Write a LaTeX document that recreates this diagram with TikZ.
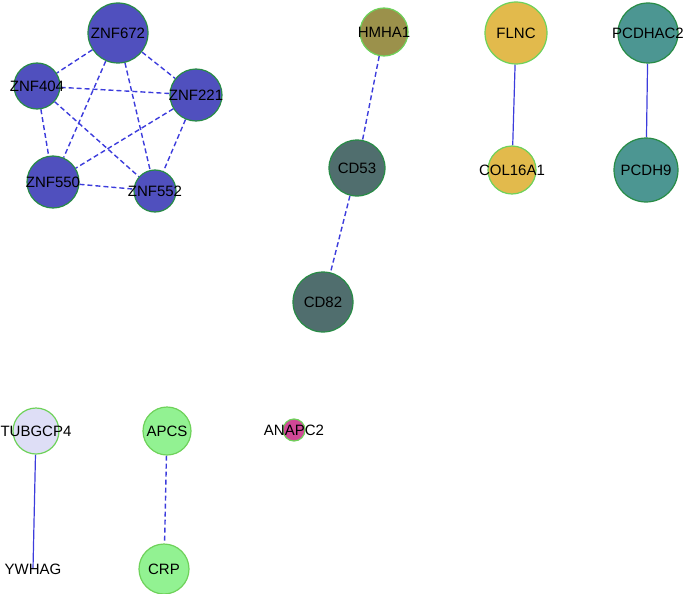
\documentclass[tikz,border=0pt]{standalone}
\usepackage{fontspec}
\setsansfont{Liberation Sans}
\usetikzlibrary{backgrounds}

\definecolor{znfblue}{RGB}{80,80,190}
\definecolor{hmhaolive}{RGB}{155,145,75}
\definecolor{cdslate}{RGB}{80,110,110}
\definecolor{flncgold}{RGB}{226,186,76}
\definecolor{pcdhteal}{RGB}{76,150,146}
\definecolor{tubglav}{RGB}{222,222,246}
\definecolor{apcsgreen}{RGB}{146,242,146}
\definecolor{anapcpink}{RGB}{208,72,150}
\definecolor{darkrim}{RGB}{40,140,70}
\definecolor{lightrim}{RGB}{110,210,90}
\definecolor{edgeblue}{RGB}{60,60,220}

\begin{document}
\begin{tikzpicture}[x=1pt,y=-1pt,line width=1.2pt,
  font=\sffamily\fontsize{15}{15}\selectfont,
  gene node/.style={circle,draw=darkrim,inner sep=0pt},
  light node/.style={circle,draw=lightrim,inner sep=0pt},
  dash edge/.style={edgeblue,line width=1.4pt,dash pattern=on 5pt off 3pt},
  solid edge/.style={edgeblue,line width=1.2pt}]

  \useasboundingbox (0,0) rectangle (685,594);

  \node[gene node,fill=znfblue,minimum size=60pt,label=center:ZNF672] (znf672) at (118,33) {};
  \node[gene node,fill=znfblue,minimum size=46pt,label=center:ZNF404] (znf404) at (37,86) {};
  \node[gene node,fill=znfblue,minimum size=52pt,label=center:ZNF221] (znf221) at (196,95) {};
  \node[gene node,fill=znfblue,minimum size=52pt,label=center:ZNF550] (znf550) at (53,182) {};
  \node[gene node,fill=znfblue,minimum size=42pt,label=center:ZNF552] (znf552) at (155,191) {};

  \node[light node,fill=hmhaolive,minimum size=48pt,label=center:HMHA1] (hmha1) at (384,32) {};
  \node[gene node,fill=cdslate,minimum size=56pt,label=center:CD53] (cd53) at (357,168) {};
  \node[gene node,fill=cdslate,minimum size=60pt,label=center:CD82] (cd82) at (323,302) {};

  \node[light node,fill=flncgold,minimum size=62pt,label=center:FLNC] (flnc) at (516,33) {};
  \node[light node,fill=flncgold,minimum size=48pt,label=center:COL16A1] (col16a1) at (512,170) {};

  \node[gene node,fill=pcdhteal,minimum size=60pt,label=center:PCDHAC2] (pcdhac2) at (648,33) {};
  \node[gene node,fill=pcdhteal,minimum size=64pt,label=center:PCDH9] (pcdh9) at (646,170) {};

  \node[light node,fill=tubglav,minimum size=46pt,label=center:TUBGCP4] (tubgcp4) at (36,431) {};
  \node[circle,inner sep=0pt,minimum size=0pt,label=center:YWHAG] (ywhag) at (33,569) {};

  \node[light node,fill=apcsgreen,minimum size=48pt,label=center:APCS] (apcs) at (167,431) {};
  \node[light node,fill=apcsgreen,minimum size=50pt,label=center:CRP] (crp) at (164,569) {};

  \node[light node,fill=anapcpink,minimum size=22pt,label=center:ANAPC2] (anapc2) at (294,430) {};

  \begin{pgfonlayer}{background}
  \path[dash edge]
    (znf672) edge (znf404)
    (znf672) edge (znf221)
    (znf672) edge (znf550)
    (znf672) edge (znf552)
    (znf404) edge (znf221)
    (znf404) edge (znf550)
    (znf404) edge (znf552)
    (znf221) edge (znf550)
    (znf221) edge (znf552)
    (znf550) edge (znf552)
    (hmha1) edge (cd53)
    (cd53) edge (cd82)
    (apcs) edge (crp);
  \path[solid edge]
    (flnc) edge (col16a1)
    (pcdhac2) edge (pcdh9)
    (tubgcp4) edge (ywhag);
  \end{pgfonlayer}

\end{tikzpicture}
\end{document}
